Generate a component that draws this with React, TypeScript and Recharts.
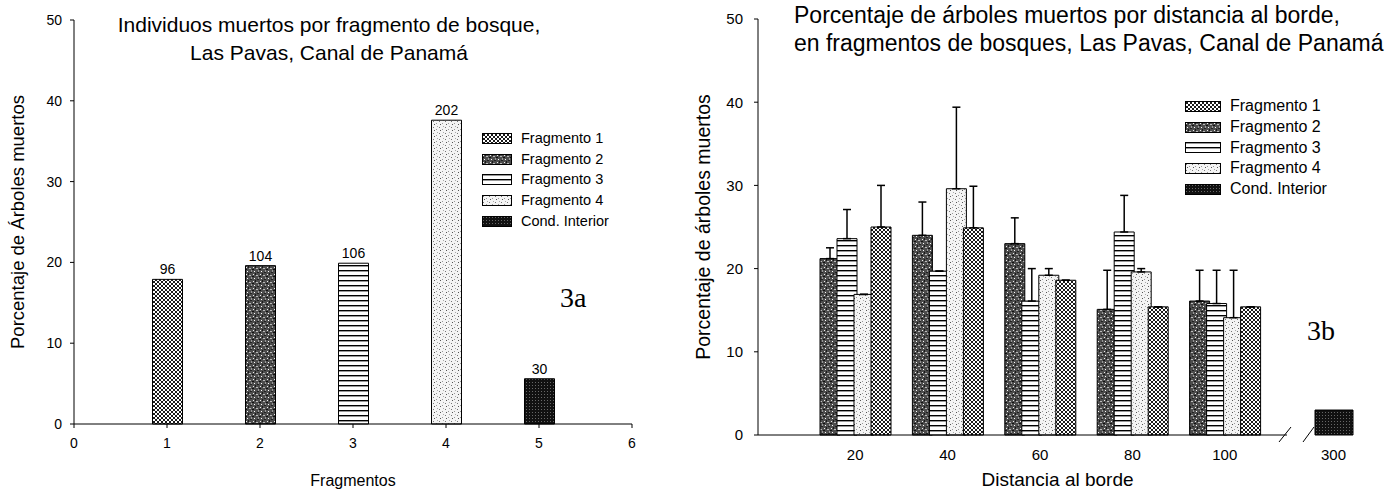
import { Bar, BarChart, Cell, ErrorBar, Label, LabelList, Legend, XAxis, YAxis } from 'recharts';

const SANS = '"Liberation Sans", Arial, sans-serif';
const SERIF = '"Liberation Serif", "Times New Roman", serif';

// legend / pattern keys shared by both panels
const seriesKeys = ['f1', 'f2', 'f3', 'f4', 'int'];
const seriesNames = ['Fragmento 1', 'Fragmento 2', 'Fragmento 3', 'Fragmento 4', 'Cond. Interior'];
const pctTicks = [0, 10, 20, 30, 40, 50];

// panel 3a
const fragmentTicks = [0, 1, 2, 3, 4, 5, 6];
const fragmentNumbers = [1, 2, 3, 4, 5];
const deadPercent = [17.9, 19.6, 19.9, 37.6, 5.6];
const deadCounts = [96, 104, 106, 202, 30];

// panel 3b
const distances = ['20', '40', '60', '80', '100'];
const frag1Pct = [25.0, 24.9, 18.6, 15.4, 15.4];
const frag1Err = [5.0, 5.0, 0, 0, 0];
const frag2Pct = [21.2, 24.0, 23.0, 15.1, 16.1];
const frag2Err = [1.3, 4.0, 3.1, 4.7, 3.7];
const frag3Pct = [23.6, 19.7, 16.1, 24.4, 15.8];
const frag3Err = [3.5, 0, 3.9, 4.4, 4.0];
const frag4Pct = [16.9, 29.6, 19.2, 19.6, 14.1];
const frag4Err = [0, 9.8, 0.8, 0.4, 5.7];
const interiorDistance = ['300'];
const interiorPct = [3.0];

const barsA = fragmentNumbers.map((x, i) => ({
  x,
  value: deadPercent[i],
  count: deadCounts[i],
  key: seriesKeys[i],
}));

const barsB = distances.map((d, i) => ({
  d,
  f1: frag1Pct[i],
  f1e: [0, frag1Err[i]],
  f2: frag2Pct[i],
  f2e: [0, frag2Err[i]],
  f3: frag3Pct[i],
  f3e: [0, frag3Err[i]],
  f4: frag4Pct[i],
  f4e: [0, frag4Err[i]],
}));

const barsInterior = interiorDistance.map((d, i) => ({ d, int: interiorPct[i] }));

// scanned-print style fills
function patternDefs(p: string) {
  return (
    <defs>
      <pattern id={`${p}-f1`} width={4} height={4} patternUnits="userSpaceOnUse">
        <rect width={4} height={4} fill="#fff" />
        <path d="M0,0L4,4M4,0L0,4" stroke="#000" strokeWidth={0.9} />
      </pattern>
      <pattern id={`${p}-f2`} width={7} height={7} patternUnits="userSpaceOnUse">
        <rect width={7} height={7} fill="#4d4d4d" />
        <rect x={1} y={1} width={1} height={1} fill="#eee" />
        <rect x={4} y={2} width={2} height={1} fill="#bbb" />
        <rect x={2} y={5} width={1} height={1} fill="#fff" />
        <rect x={6} y={4} width={1} height={2} fill="#999" />
        <rect x={0} y={3} width={2} height={1} fill="#111" />
        <rect x={3} y={0} width={1} height={2} fill="#1a1a1a" />
        <rect x={5} y={6} width={2} height={1} fill="#222" />
      </pattern>
      <pattern id={`${p}-f3`} width={5} height={5} patternUnits="userSpaceOnUse">
        <rect width={5} height={5} fill="#fff" />
        <rect x={0} y={0} width={5} height={1.4} fill="#000" />
      </pattern>
      <pattern id={`${p}-f4`} width={6} height={6} patternUnits="userSpaceOnUse">
        <rect width={6} height={6} fill="#f4f4f4" />
        <rect x={1} y={1} width={1} height={1} fill="#777" />
        <rect x={4} y={3} width={1} height={1} fill="#999" />
        <rect x={2} y={4} width={1} height={1} fill="#555" />
        <rect x={5} y={0} width={1} height={1} fill="#aaa" />
      </pattern>
      <pattern id={`${p}-int`} width={3} height={3} patternUnits="userSpaceOnUse">
        <rect width={3} height={3} fill="#111" />
        <rect x={1} y={1} width={1} height={1} fill="#666" />
      </pattern>
    </defs>
  );
}

function PatternLegend({ prefix, fontSize, swatch }: { prefix: string; fontSize: number; swatch: number }) {
  return (
    <div style={{ fontFamily: SANS, fontSize, color: '#000', lineHeight: 1, whiteSpace: 'nowrap' }}>
      {seriesNames.map((name, i) => (
        <div key={name} style={{ display: 'flex', alignItems: 'center', height: 20.7 }}>
          <svg width={swatch} height={11} style={{ marginRight: 9, flex: 'none' }}>
            <rect x={0.5} y={0.5} width={swatch - 1} height={10} fill={`url(#${prefix}-${seriesKeys[i]})`} stroke="#000" />
          </svg>
          <span>{name}</span>
        </div>
      ))}
    </div>
  );
}

const axisStroke = { stroke: '#000', strokeWidth: 1 };

export default function App() {
  return (
    <div style={{ position: 'absolute', left: 0, top: 0, width: 1396, height: 490, background: '#fff', fontFamily: SANS }}>
      {/* 3a */}
      <div style={{ position: 'absolute', left: 0, top: 0 }}>
        <BarChart width={690} height={490} data={barsA} margin={{ top: 20, right: 58, left: 0, bottom: 0 }}>
          {patternDefs('a')}
          <XAxis
            type="number"
            dataKey="x"
            domain={[0, 6]}
            ticks={fragmentTicks}
            height={66}
            tickSize={4}
            tickMargin={10}
            axisLine={axisStroke}
            tickLine={axisStroke}
            tick={{ fill: '#000', fontSize: 14 }}
          >
            <Label value="Fragmentos" position="insideBottom" offset={4} style={{ fontSize: 16, fill: '#000' }} />
          </XAxis>
          <YAxis
            domain={[0, 50]}
            ticks={pctTicks}
            width={74}
            tickSize={4}
            tickMargin={8}
            axisLine={axisStroke}
            tickLine={axisStroke}
            tick={{ fill: '#000', fontSize: 14 }}
          >
            <Label
              value="Porcentaje de Árboles muertos"
              angle={-90}
              position="insideLeft"
              offset={17}
              style={{ textAnchor: 'middle', fontSize: 18.5, fill: '#000' }}
            />
          </YAxis>
          <Legend
            layout="vertical"
            align="center"
            verticalAlign="middle"
            wrapperStyle={{ left: 482, top: 128, width: 'auto' }}
            content={() => <PatternLegend prefix="a" fontSize={14.5} swatch={30} />}
          />
          <Bar dataKey="value" barSize={30} stroke="#000" strokeWidth={1} isAnimationActive={false}>
            {barsA.map((row) => (
              <Cell key={row.key} fill={`url(#a-${row.key})`} />
            ))}
            <LabelList dataKey="count" position="top" offset={5} fontSize={14} fill="#000" />
          </Bar>
        </BarChart>
      </div>
      <div
        style={{
          position: 'absolute',
          left: 29,
          top: 11,
          width: 600,
          textAlign: 'center',
          fontSize: 21,
          lineHeight: '28px',
          whiteSpace: 'nowrap',
        }}
      >
        Individuos muertos por fragmento de bosque,
        <br />
        Las Pavas, Canal de Panamá
      </div>
      <div style={{ position: 'absolute', left: 560, top: 282, fontFamily: SERIF, fontSize: 28 }}>3a</div>

      {/* 3b */}
      <div style={{ position: 'absolute', left: 690, top: 0 }}>
        <BarChart
          width={620}
          height={490}
          data={barsB}
          margin={{ top: 19, right: 23, left: 0, bottom: 0 }}
          barSize={20}
          barGap={-3}
        >
          {patternDefs('b')}
          <XAxis
            dataKey="d"
            height={55}
            padding={{ left: 51, right: 16 }}
            tickSize={0}
            tickMargin={14}
            axisLine={axisStroke}
            tickLine={false}
            tick={{ fill: '#000', fontSize: 15 }}
          >
            <Label
              content={({ viewBox }: any) => (
                <text
                  x={viewBox.x + viewBox.width / 2 + 35}
                  y={viewBox.y + viewBox.height - 4}
                  textAnchor="middle"
                  fontSize={19}
                  fill="#000"
                >
                  Distancia al borde
                </text>
              )}
            />
          </XAxis>
          <YAxis
            domain={[0, 50]}
            ticks={pctTicks}
            width={68}
            tickSize={4}
            tickMargin={11}
            axisLine={axisStroke}
            tickLine={axisStroke}
            tick={{ fill: '#000', fontSize: 15 }}
          >
            <Label
              value="Porcentaje de árboles muertos"
              angle={-90}
              position="insideLeft"
              offset={13}
              style={{ textAnchor: 'middle', fontSize: 19.5, fill: '#000' }}
            />
          </YAxis>
          <Legend
            layout="vertical"
            align="center"
            verticalAlign="middle"
            wrapperStyle={{ left: 495, top: 96, width: 'auto' }}
            content={() => <PatternLegend prefix="b" fontSize={16} swatch={36} />}
          />
          <Bar dataKey="f2" fill="url(#b-f2)" stroke="#000" isAnimationActive={false}>
            <ErrorBar dataKey="f2e" width={4} stroke="#000" direction="y" isAnimationActive={false} />
          </Bar>
          <Bar dataKey="f3" fill="url(#b-f3)" stroke="#000" isAnimationActive={false}>
            <ErrorBar dataKey="f3e" width={4} stroke="#000" direction="y" isAnimationActive={false} />
          </Bar>
          <Bar dataKey="f4" fill="url(#b-f4)" stroke="#000" isAnimationActive={false}>
            <ErrorBar dataKey="f4e" width={4} stroke="#000" direction="y" isAnimationActive={false} />
          </Bar>
          <Bar dataKey="f1" fill="url(#b-f1)" stroke="#000" isAnimationActive={false}>
            <ErrorBar dataKey="f1e" width={4} stroke="#000" direction="y" isAnimationActive={false} />
          </Bar>
        </BarChart>
      </div>

      {/* interior condition, drawn past the axis break */}
      <div style={{ position: 'absolute', left: 1300, top: 0 }}>
        <BarChart width={70} height={490} data={barsInterior} margin={{ top: 19, right: 14, left: 11, bottom: 0 }}>
          <XAxis
            dataKey="d"
            height={55}
            tickSize={0}
            tickMargin={14}
            axisLine={false}
            tickLine={false}
            tick={{ fill: '#000', fontSize: 15 }}
          />
          <YAxis hide domain={[0, 50]} ticks={pctTicks} />
          <Bar dataKey="int" barSize={38} fill="url(#b-int)" stroke="#000" isAnimationActive={false} />
        </BarChart>
      </div>
      <svg width={1396} height={490} style={{ position: 'absolute', left: 0, top: 0, pointerEvents: 'none' }}>
        <path d="M1279,442L1291,427M1303,442L1314,427" stroke="#000" strokeWidth={1} />
      </svg>

      <div
        style={{
          position: 'absolute',
          left: 794,
          top: 1,
          fontSize: 23,
          lineHeight: '28px',
          whiteSpace: 'nowrap',
        }}
      >
        Porcentaje de árboles muertos por distancia al borde,
        <br />
        en fragmentos de bosques, Las Pavas, Canal de Panamá
      </div>
      <div style={{ position: 'absolute', left: 1307, top: 315, fontFamily: SERIF, fontSize: 28 }}>3b</div>
    </div>
  );
}
